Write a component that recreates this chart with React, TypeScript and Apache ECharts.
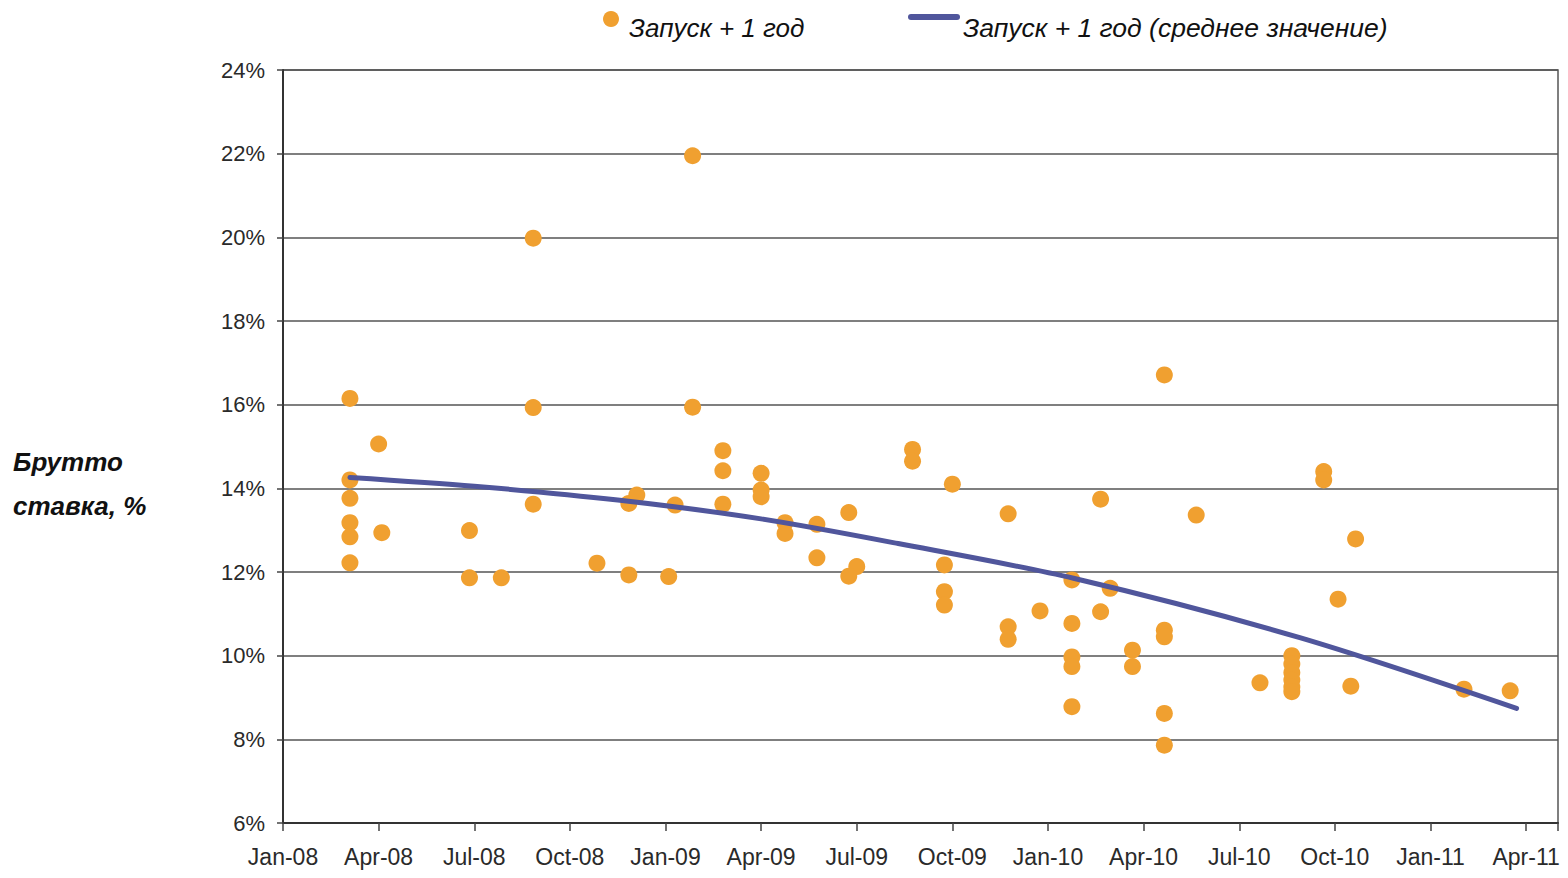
import React, { useEffect, useRef } from "react";
import * as echarts from "echarts";

// Month offsets from Jan-08 (0 = Jan-08)
const launchMonths = [
  2.1, 2.1, 2.1, 2.1, 2.1, 2.1, 3.0, 3.1, 5.85, 5.85,
  6.85, 7.85, 7.85, 7.85, 9.85, 10.85, 11.1, 10.85, 12.3, 12.1,
  12.85, 12.85, 13.8, 13.8, 13.8, 15.0, 15.0, 15.0, 15.75, 15.75,
  16.75, 16.75, 17.75, 18.0, 17.75, 19.75, 19.75, 21.0, 20.75, 20.75,
  20.75, 22.75, 22.75, 22.75, 23.75, 24.75, 24.75, 24.75, 24.75, 24.75,
  25.65, 25.65, 25.95, 26.65, 26.65, 27.65, 27.65, 27.65, 27.65, 27.65,
  28.65, 30.65, 31.65, 31.65, 31.65, 31.65, 31.65, 31.65, 32.65, 32.65,
  33.1, 33.65, 33.5, 37.05, 38.5,
];
const grossRates = [
  16.15, 14.2, 13.76, 13.18, 12.84, 12.22, 15.06, 12.94, 12.99, 11.86,
  11.86, 19.98, 15.93, 13.62, 12.21, 13.64, 13.84, 11.93, 13.6, 11.89,
  21.95, 15.94, 14.9, 14.42, 13.62, 14.36, 13.96, 13.8, 13.18, 12.92,
  13.14, 12.34, 13.42, 12.13, 11.9, 14.93, 14.65, 14.1, 12.17, 11.53,
  11.21, 13.39, 10.69, 10.39, 11.07, 11.81, 10.77, 9.97, 9.74, 8.78,
  13.74, 11.05, 11.61, 10.13, 9.74, 16.71, 10.61, 10.45, 8.62, 7.86,
  13.36, 9.35, 10.0, 9.8, 9.6, 9.42, 9.25, 9.14, 14.4, 14.2,
  11.35, 12.79, 9.27, 9.2, 9.16,
];

const trendMonths = [2.1, 6, 10.5, 15, 19.3, 24.8, 31.9, 38.7];
const trendRates = [14.26, 14.05, 13.72, 13.27, 12.68, 11.85, 10.43, 8.74];

const quarterLabels = [
  "Jan-08", "Apr-08", "Jul-08", "Oct-08",
  "Jan-09", "Apr-09", "Jul-09", "Oct-09",
  "Jan-10", "Apr-10", "Jul-10", "Oct-10",
  "Jan-11", "Apr-11",
];

const seriesNames = ["Запуск + 1 год", "Запуск + 1 год (среднее значение)"];
const axisTitle = "Брутто\nставка, %";

const FONT = "'Liberation Sans', Arial, sans-serif";
const DOT = "#F0A030";
const LINE = "#50569C";

export default function App() {
  const ref = useRef<HTMLDivElement>(null);
  useEffect(() => {
    if (!ref.current) return;
    const chart = echarts.init(ref.current, null, { renderer: "svg" });
    chart.setOption({
      animation: false,
      backgroundColor: "#ffffff",
      textStyle: { fontFamily: FONT },
      grid: {
        left: 283,
        right: 10,
        top: 70,
        bottom: 55,
        show: true,
        borderColor: "#555",
        borderWidth: 1.5,
        containLabel: false,
      },
      xAxis: {
        type: "value",
        min: 0,
        max: 40,
        interval: 3,
        axisLine: { show: true, lineStyle: { color: "#333", width: 2 } },
        axisTick: { show: true, length: 8, lineStyle: { color: "#444", width: 1.5 } },
        splitLine: { show: false },
        axisLabel: {
          margin: 22,
          fontSize: 23,
          color: "#2a2a2a",
          fontFamily: FONT,
          formatter: (v: number) => (v % 3 === 0 && quarterLabels[v / 3] ? quarterLabels[v / 3] : ""),
        },
      },
      yAxis: {
        type: "value",
        min: 6,
        max: 24,
        interval: 2,
        axisLine: { show: true, lineStyle: { color: "#333", width: 2 } },
        axisTick: { show: true, length: 6, lineStyle: { color: "#444", width: 1.5 } },
        splitLine: { show: true, lineStyle: { color: "#555", width: 1.5 } },
        axisLabel: {
          margin: 18,
          fontSize: 22,
          color: "#2a2a2a",
          fontFamily: FONT,
          formatter: (v: number) => v + "%",
        },
      },
      graphic: [
        {
          type: "text",
          left: 13,
          top: 440,
          style: {
            text: axisTitle,
            font: `italic bold 26px ${FONT}`,
            fill: "#111",
            lineHeight: 44,
          },
        },
        // legend
        { type: "circle", shape: { cx: 611, cy: 19, r: 8 }, style: { fill: DOT } },
        {
          type: "text",
          x: 629,
          y: 28,
          style: {
            text: seriesNames[0],
            font: `italic 26px ${FONT}`,
            fill: "#111",
            verticalAlign: "middle",
          },
        },
        { type: "rect", shape: { x: 908, y: 14, width: 52, height: 6, r: 3 }, style: { fill: LINE } },
        {
          type: "text",
          x: 963,
          y: 28,
          style: {
            text: seriesNames[1],
            font: `italic 26.5px ${FONT}`,
            fill: "#111",
            verticalAlign: "middle",
          },
        },
      ],
      series: [
        {
          name: seriesNames[0],
          type: "scatter",
          symbol: "circle",
          symbolSize: 17,
          itemStyle: { color: DOT, opacity: 1 },
          data: launchMonths.map((m, i) => [m, grossRates[i]]),
          z: 2,
        },
        {
          name: seriesNames[1],
          type: "line",
          smooth: 0.3,
          showSymbol: false,
          lineStyle: { color: LINE, width: 5, cap: "round" },
          itemStyle: { color: LINE },
          data: trendMonths.map((m, i) => [m, trendRates[i]]),
          z: 3,
        },
      ],
    });
    return () => chart.dispose();
  }, []);
  return (
    <div
      ref={ref}
      style={{ position: "absolute", left: 0, top: 0, width: 1568, height: 878 }}
    />
  );
}
